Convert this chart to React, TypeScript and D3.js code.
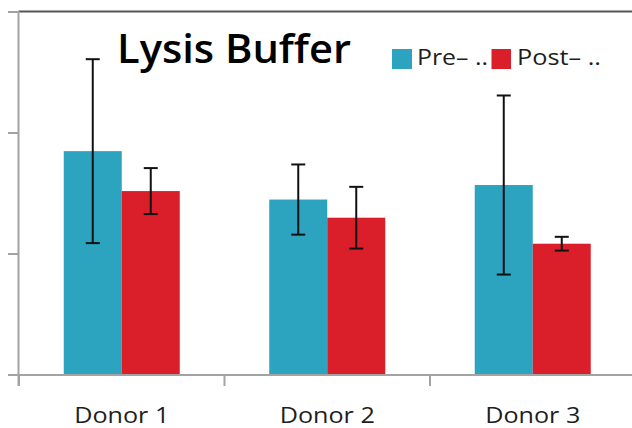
import React from "react";
import * as d3 from "d3";

// Group-mean values with their error half-widths (standard deviation)
const donors = ["Donor 1", "Donor 2", "Donor 3"];
const seriesNames = ["Pre– ..", "Post– .."];
const preMeans = [1.85, 1.45, 1.57];
const preErrors = [0.76, 0.29, 0.74];
const postMeans = [1.52, 1.3, 1.085];
const postErrors = [0.19, 0.255, 0.057];
const yTicks = [0, 1, 2, 3];
const seriesColors = ["#2ca3bf", "#db1f2a"];

const W = 632;
const H = 428;

export default function App() {
  const axisX = 18.5;
  const baseY = 375;

  const y = d3.scaleLinear().domain([0, 3]).range([baseY, 12]);
  const x0 = d3.scaleBand<string>().domain(donors).range([19, 635.5]).padding(0);
  const groupWidth = 116;
  const x1 = d3
    .scaleBand<string>()
    .domain(seriesNames)
    .range([0, groupWidth])
    .padding(0);

  const series = [
    { name: seriesNames[0], means: preMeans, errs: preErrors, color: seriesColors[0] },
    { name: seriesNames[1], means: postMeans, errs: postErrors, color: seriesColors[1] },
  ];

  const boundaries = donors.map((d) => x0(d) as number);
  const capHalf = 7;

  return (
    <svg
      width={W}
      height={H}
      style={{ position: "absolute", left: 0, top: 0, background: "#fff" }}
      fontFamily="'Open Sans', sans-serif"
    >
      {/* top frame edge */}
      <line x1={axisX} x2={W} y1={11.5} y2={11.5} stroke="#555" strokeWidth={2} />

      {/* bars */}
      {series.map((s) =>
        donors.map((d, i) => {
          const gx = (x0(d) as number) + (x0.bandwidth() - groupWidth) / 2 + (x1(s.name) as number);
          return (
            <rect
              key={s.name + d}
              x={gx}
              y={y(s.means[i])}
              width={x1.bandwidth()}
              height={baseY - y(s.means[i])}
              fill={s.color}
            />
          );
        })
      )}

      {/* error bars */}
      {series.map((s) =>
        donors.map((d, i) => {
          const cx =
            (x0(d) as number) +
            (x0.bandwidth() - groupWidth) / 2 +
            (x1(s.name) as number) +
            x1.bandwidth() / 2;
          const hi = y(s.means[i] + s.errs[i]);
          const lo = y(s.means[i] - s.errs[i]);
          return (
            <g key={"e" + s.name + d} stroke="#111" strokeWidth={2}>
              <line x1={cx} x2={cx} y1={hi} y2={lo} />
              <line x1={cx - capHalf} x2={cx + capHalf} y1={hi} y2={hi} />
              <line x1={cx - capHalf} x2={cx + capHalf} y1={lo} y2={lo} />
            </g>
          );
        })
      )}

      {/* y axis */}
      <line x1={axisX} x2={axisX} y1={11} y2={386} stroke="#a3a3a3" strokeWidth={2} />
      {yTicks.map((t) => (
        <line key={t} x1={8} x2={axisX} y1={y(t)} y2={y(t)} stroke="#a3a3a3" strokeWidth={2} />
      ))}

      {/* x axis */}
      <line x1={8} x2={W} y1={baseY} y2={baseY} stroke="#a3a3a3" strokeWidth={2} />
      {boundaries.map((b, i) => (
        <line key={i} x1={b} x2={b} y1={baseY} y2={386} stroke="#a3a3a3" strokeWidth={2} />
      ))}
      {donors.map((d) => (
        <text
          key={d}
          x={(x0(d) as number) + x0.bandwidth() / 2}
          y={423}
          textAnchor="middle"
          fontSize={22}
          fill="#1e1e1e"
          textLength={95}
          lengthAdjust="spacingAndGlyphs"
        >
          {d}
        </text>
      ))}

      {/* title */}
      <text x={117} y={62.5} fontSize={40} fontWeight={600} fill="#000" textLength={234} lengthAdjust="spacingAndGlyphs">
        Lysis Buffer
      </text>

      {/* legend */}
      <rect x={392} y={49} width={20} height={20} fill={seriesColors[0]} />
      <text x={417} y={65} fontSize={22} fill="#1e1e1e" textLength={71} lengthAdjust="spacingAndGlyphs">
        {seriesNames[0]}
      </text>
      <rect x={491.5} y={49} width={19.5} height={20} fill={seriesColors[1]} />
      <text x={517} y={65} fontSize={22} fill="#1e1e1e" textLength={84} lengthAdjust="spacingAndGlyphs">
        {seriesNames[1]}
      </text>
    </svg>
  );
}
